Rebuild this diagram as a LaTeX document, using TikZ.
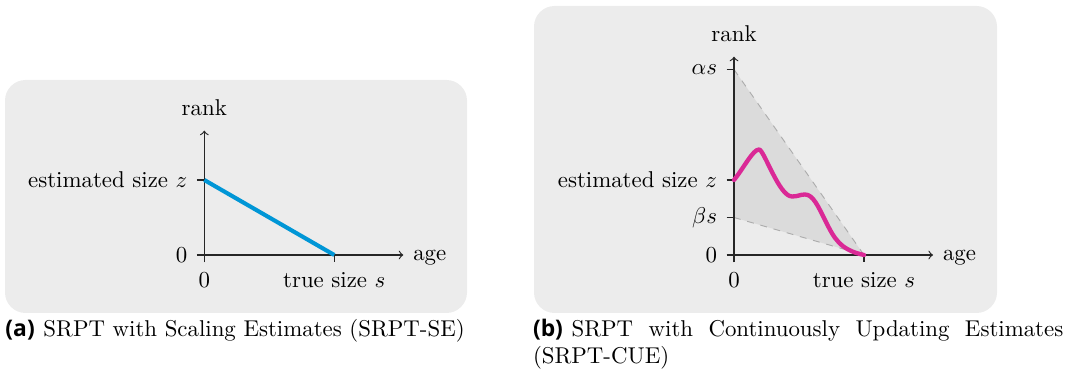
\documentclass[tikz,border=0pt]{standalone}
\usepackage{fontspec}
\newfontfamily\capsans{Open Sans}
\definecolor{bgpanel}{RGB}{236,236,236}
\definecolor{bandfill}{RGB}{219,219,219}
\definecolor{bandline}{RGB}{172,172,172}
\definecolor{lineblue}{RGB}{0,150,214}
\definecolor{linemag}{RGB}{218,41,150}
\tikzset{
  panel/.style={fill=bgpanel, rounded corners=9pt},
  axisline/.style={->, line width=0.5pt, black!85},
  tickline/.style={line width=0.5pt, black!85},
  lbl/.style={inner sep=0pt, outer sep=0pt},
  bandedge/.style={bandline, dashed, line width=0.4pt},
  estline/.style={lineblue, line width=1.8pt},
  curveline/.style={linemag, line width=1.9pt, line cap=round, line join=round},
}
\begin{document}
\begin{tikzpicture}[x=0.4375pt, y=-0.4375pt, font=\fontsize{10}{12}\selectfont]
\useasboundingbox (0,0) rectangle (1071,369);

% panels
\fill[panel] (5,80) rectangle (467,313);
\fill[panel] (534,6) rectangle (997,313);

% ---------- left panel ----------
\begin{scope}[shift={(204.3,255)}, yscale=-1]
  \coordinate (aO) at (0,0);
  \coordinate (aXend) at (199,0);
  \coordinate (aYend) at (0,124.3);
  \coordinate (aZt) at (0,75);
  \coordinate (aSt) at (130,0);
  \draw[axisline] (-7.5,0) -- (aXend);
  \draw[axisline] (0,-7.5) -- (aYend);
  \draw[tickline] (-7.5,75) -- (aZt);
  \draw[tickline] (aSt) -- (130,-7.5);
  \draw[estline] (aZt) -- (aSt);
  \node[lbl, anchor=base] (aRank) at (0,139) {rank};
  \node[lbl, anchor=east] (aZ) at (-17,75) {estimated size $z$};
  \node[lbl, anchor=east] (aZero) at (-17,0) {0};
  \node[lbl, anchor=base] (aX0) at (0,-33) {0};
  \node[lbl, anchor=base] (aS) at (130,-33) {true size $s$};
  \node[lbl, anchor=base west] (aAge) at (209,-5.5) {age};
\end{scope}

% ---------- right panel ----------
\begin{scope}[shift={(734,255)}, yscale=-1]
  \coordinate (bO) at (0,0);
  \coordinate (bXend) at (199,0);
  \coordinate (bYend) at (0,198.3);
  \coordinate (bAt) at (0,185.5);
  \coordinate (bZt) at (0,75);
  \coordinate (bBt) at (0,37.5);
  \coordinate (bSt) at (130,0);
  \fill[bandfill] (bAt) -- (bSt) -- (bBt) -- cycle;
  \draw[bandedge] (bAt) -- (bSt);
  \draw[bandedge] (bBt) -- (bSt);
  \draw[axisline] (-7.5,0) -- (bXend);
  \draw[axisline] (0,-7.5) -- (bYend);
  \draw[tickline] (-7.5,185.5) -- (bAt);
  \draw[tickline] (-7.5,75) -- (bZt);
  \draw[tickline] (-7.5,37.5) -- (bBt);
  \draw[tickline] (bSt) -- (130,-7.5);
  \draw[curveline] (bZt) .. controls (10,87.5) and (19,105.5) .. (25,105.5)
     .. controls (30,105.5) and (45,58.5) .. (58,58.5)
     .. controls (64,58.5) and (66,60.5) .. (71,60.5)
     .. controls (79,60.5) and (84,49) .. (92,33)
     .. controls (100,17) and (106,5) .. (bSt);
  \node[lbl, anchor=base] (bRank) at (0,213.3) {rank};
  \node[lbl, anchor=east] (bA) at (-17,185.5) {$\alpha s$};
  \node[lbl, anchor=east] (bZ) at (-17,75) {estimated size $z$};
  \node[lbl, anchor=east] (bB) at (-17,37.5) {$\beta s$};
  \node[lbl, anchor=east] (bZero) at (-17,0) {0};
  \node[lbl, anchor=base] (bX0) at (0,-33) {0};
  \node[lbl, anchor=base] (bS) at (130,-33) {true size $s$};
  \node[lbl, anchor=base west] (bAge) at (209,-5.5) {age};
\end{scope}

% ---------- captions ----------
\node[lbl, anchor=base west] (capA) at (5.5,336.5)
  {{\capsans\bfseries (a)}\hspace{3.8pt}SRPT with Scaling Estimates (SRPT-SE)};
\node[lbl, anchor=base west] (capB) at (533,336.5)
  {\parbox[t]{232pt}{{\capsans\bfseries (b)}\hspace{3.8pt}SRPT with Continuously Updating Estimates\linebreak (SRPT-CUE)}};
\end{tikzpicture}
\end{document}
